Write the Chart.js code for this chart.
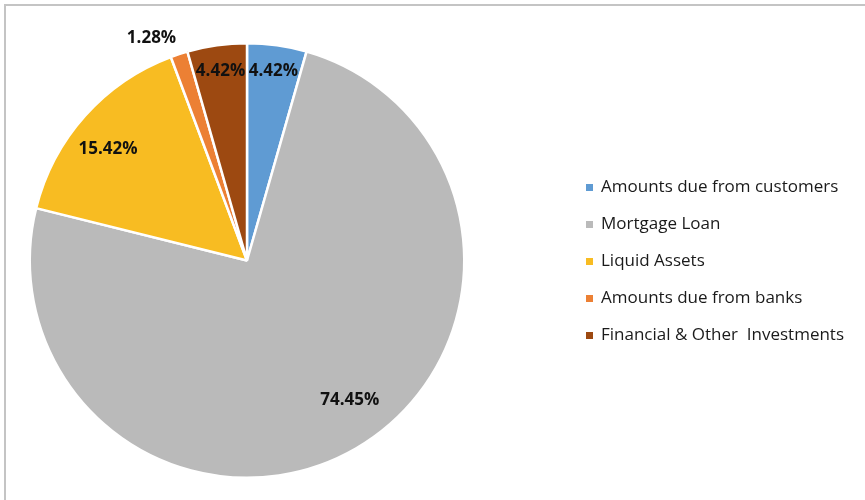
<!DOCTYPE html>
<html>
<head>
<meta charset="utf-8">
<script src="https://cdn.jsdelivr.net/npm/chart.js@4/dist/chart.umd.min.js"></script>
<style>
  html, body { margin: 0; padding: 0; background: #fff; }
  #wrap { width: 865px; height: 500px; position: relative; }
</style>
</head>
<body>
<div id="wrap"><canvas id="c" width="865" height="500"></canvas></div>
<script>
// Asset composition shares (percent)
const categories = [
  'Amounts due from customers',
  'Mortgage Loan',
  'Liquid Assets',
  'Amounts due from banks',
  'Financial & Other  Investments'
];
const shares = [4.42, 74.45, 15.42, 1.28, 4.42];
const sliceColors = ['#5F9BD3', '#BABABA', '#F8BC22', '#EC8034', '#9D4911'];

// where each percentage label sits: fraction of the radius, and an angle nudge (degrees)
const labelRadius = [0.88, 0.80, 0.82, 1.115, 0.88];
const labelNudge = [0, -6.2, -3, -5, 0];

const FONT = "'Open Sans', 'Liberation Sans', sans-serif";

// light frame round the whole chart
const frame = {
  id: 'frame',
  beforeDraw(chart) {
    const ctx = chart.ctx;
    ctx.save();
    ctx.fillStyle = '#ffffff';
    ctx.fillRect(0, 0, chart.width, chart.height);
    ctx.strokeStyle = '#c4c4c4';
    ctx.lineWidth = 2;
    ctx.strokeRect(5, 5, chart.width + 20, chart.height + 20);
    ctx.restore();
  }
};

// percentage labels on (and just outside) the slices
const pctLabels = {
  id: 'pctLabels',
  afterDatasetsDraw(chart) {
    const ctx = chart.ctx;
    const meta = chart.getDatasetMeta(0);
    ctx.save();
    ctx.font = "bold 17px " + FONT;
    ctx.fillStyle = '#111111';
    ctx.textAlign = 'center';
    ctx.textBaseline = 'middle';
    meta.data.forEach((arc, i) => {
      const p = arc.getProps(['x', 'y', 'startAngle', 'endAngle', 'outerRadius'], true);
      const mid = (p.startAngle + p.endAngle) / 2 + labelNudge[i] * Math.PI / 180;
      const r = p.outerRadius * labelRadius[i];
      const x = p.x + Math.cos(mid) * r;
      const y = p.y + Math.sin(mid) * r;
      ctx.fillText(shares[i].toFixed(2) + '%', x, y);
    });
    ctx.restore();
  }
};

// legend column to the right of the pie
const sideLegend = {
  id: 'sideLegend',
  afterDraw(chart) {
    const ctx = chart.ctx;
    const area = chart.chartArea;
    const labels = chart.data.labels;
    const colors = chart.data.datasets[0].backgroundColor;
    const rowGap = 37, box = 7;
    const boxX = area.right + 92;
    const textX = boxX + 15;
    const midY = (area.top + area.bottom) / 2 + 1;
    const firstY = midY - rowGap * (labels.length - 1) / 2;
    ctx.save();
    ctx.font = "17px " + FONT;
    ctx.textAlign = 'left';
    ctx.textBaseline = 'middle';
    labels.forEach((lab, i) => {
      const y = firstY + i * rowGap;
      ctx.fillStyle = colors[i];
      ctx.fillRect(boxX, Math.round(y - box / 2), box, box);
      ctx.fillStyle = '#1a1a1a';
      ctx.fillText(lab, textX, y);
    });
    ctx.restore();
  }
};

new Chart(document.getElementById('c'), {
  type: 'pie',
  data: {
    labels: categories,
    datasets: [{
      data: shares,
      backgroundColor: sliceColors,
      borderColor: '#ffffff',
      borderWidth: 2.5
    }]
  },
  options: {
    responsive: false,
    animation: false,
    layout: { padding: { top: 42, bottom: 21, left: 0, right: 371 } },
    plugins: {
      tooltip: { enabled: false },
      legend: { display: false }
    }
  },
  plugins: [frame, pctLabels, sideLegend]
});
</script>
</body>
</html>
